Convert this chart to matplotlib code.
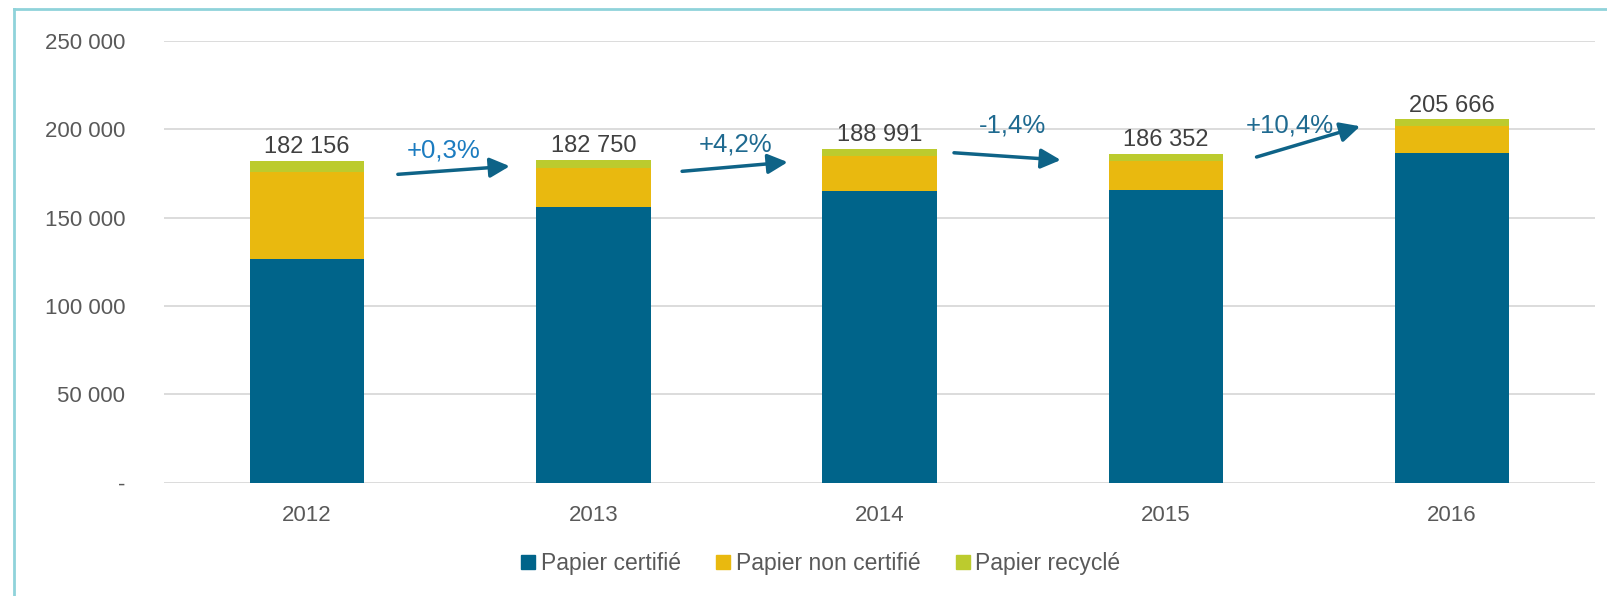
import numpy as np
import matplotlib.pyplot as plt
from matplotlib.lines import Line2D

plt.rcParams['font.family'] = ['Liberation Sans', 'DejaVu Sans']

# Data
years = ['2012', '2013', '2014', '2015', '2016']
certifie = [126900, 156000, 165000, 165900, 186550]
non_certifie = [49000, 22200, 20000, 16500, 15150]
totals = [182156, 182750, 188991, 186352, 205666]
total_labels = ['182 156', '182 750', '188 991', '186 352', '205 666']
evolutions = ['+0,3%', '+4,2%', '-1,4%', '+10,4%']
yticks = [0, 50000, 100000, 150000, 200000, 250000]
ytick_labels = ['-', '50 000', '100 000', '150 000', '200 000', '250 000']

recycle = [t - c - n for t, c, n in zip(totals, certifie, non_certifie)]

c_cert = '#00648A'
c_non = '#E9B90F'
c_rec = '#BCCB2E'
grey = '#595959'

fig = plt.figure(figsize=(16.08, 5.96), dpi=100)
ax = fig.add_axes([0.102, 0.190, 0.890, 0.741])

x = np.arange(len(years))
w = 0.40
ax.bar(x, certifie, w, color=c_cert, label='Papier certifié', zorder=2)
ax.bar(x, non_certifie, w, bottom=certifie, color=c_non,
       label='Papier non certifié', zorder=2)
bot2 = np.array(certifie) + np.array(non_certifie)
ax.bar(x, recycle, w, bottom=bot2, color=c_rec, label='Papier recyclé',
       zorder=2)

for xi, t, lab in zip(x, totals, total_labels):
    ax.annotate(lab, (xi, t), xytext=(0, 2), textcoords='offset points',
                ha='center', va='bottom', fontsize=17, color='#404040')

# growth arrows between the bars (annotation positions)
arrows = [((0.317, 174600), (0.708, 179200), (0.478, 188000)),
          ((1.310, 176300), (1.679, 181500), (1.496, 191500)),
          ((2.260, 186800), (2.633, 182700), (2.464, 202500)),
          ((3.317, 184400), (3.679, 201800), (3.435, 202500))]
txt_colors = ['#1C7CC0', '#1F6A90', '#1F6A90', '#1F6A90']
for (p0, p1, pt), lab, tc in zip(arrows, evolutions, txt_colors):
    ax.annotate('', xy=p1, xytext=p0,
                arrowprops=dict(arrowstyle='-|>', color='#0E6387', lw=2.5,
                                mutation_scale=30, shrinkA=0, shrinkB=0),
                zorder=3)
    ax.text(pt[0], pt[1], lab, ha='center', va='center', fontsize=18.5,
            color=tc)

ax.set_xlim(-0.5, 4.5)
ax.set_ylim(0, 250000)
ax.set_xticks(x)
ax.set_xticklabels(years)
ax.set_yticks(yticks)
ax.set_yticklabels(ytick_labels)
ax.tick_params(axis='both', length=0, labelsize=16, labelcolor=grey)
ax.tick_params(axis='y', pad=28)
ax.tick_params(axis='x', pad=16)
ax.yaxis.grid(True, color='#D9D9D9', lw=1.3, zorder=0)
ax.set_axisbelow(True)
for s in ax.spines.values():
    s.set_visible(False)

handles = [Line2D([], [], marker='s', ls='', markersize=10, color=c)
           for c in (c_cert, c_non, c_rec)]
fig.legend(handles, ['Papier certifié', 'Papier non certifié', 'Papier recyclé'],
           loc='center', bbox_to_anchor=(0.51, 0.055), ncol=3, frameon=False,
           fontsize=16.5, labelcolor=grey, handlelength=0.7,
           handletextpad=0.2, columnspacing=1.5)

# light frame on the left and top edge
fig.add_artist(Line2D([0.009, 0.009], [0, 0.985], color='#8FD3DA', lw=2,
                      transform=fig.transFigure))
fig.add_artist(Line2D([0.009, 1], [0.985, 0.985], color='#8FD3DA', lw=2,
                      transform=fig.transFigure))

fig.savefig('out.png', dpi=100)
